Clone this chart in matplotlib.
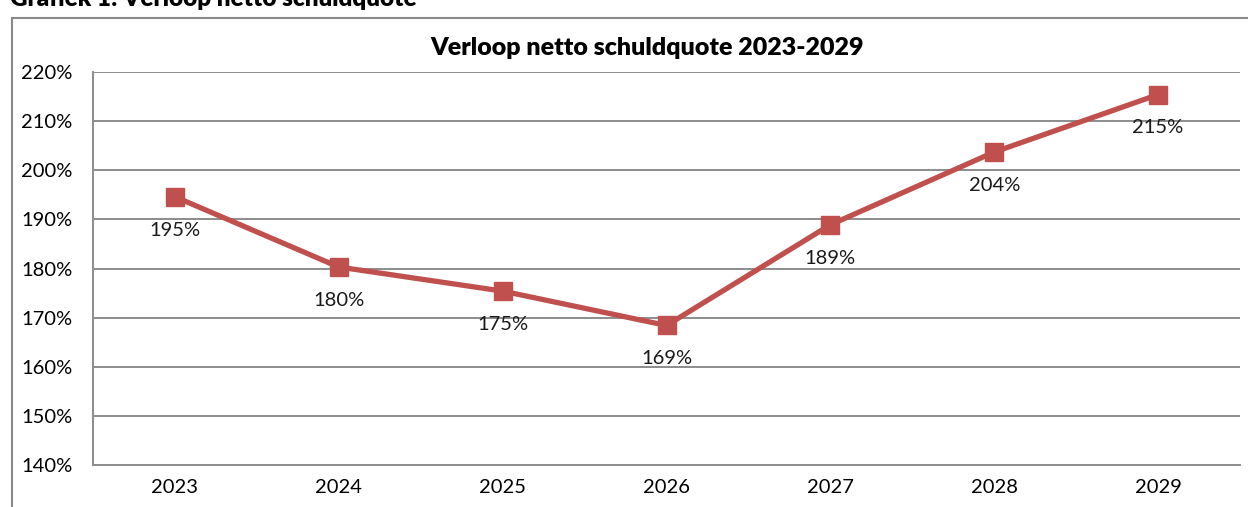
import matplotlib
matplotlib.use("Agg")
import matplotlib.pyplot as plt
from matplotlib.patches import Rectangle

plt.rcParams['font.family'] = ['Lato', 'DejaVu Sans']

years = ["2023", "2024", "2025", "2026", "2027", "2028", "2029"]
quote = [194.6, 180.3, 175.4, 168.4, 188.9, 203.7, 215.4]
labels = ["195%", "180%", "175%", "169%", "189%", "204%", "215%"]
yticks = [140, 150, 160, 170, 180, 190, 200, 210, 220]

line_color = "#C0504D"
grid_color = "#8C8C8C"

fig = plt.figure(figsize=(12.48, 5.07), dpi=100)

# kader rond de grafiek
frame = Rectangle((12 / 1248, -0.1), 1.0, 0.9645 + 0.1, transform=fig.transFigure,
                  fill=False, edgecolor="#8A8A8A", linewidth=1.5, clip_on=False)
fig.patches.append(frame)

fig.text(10 / 1248, 1 - 6 / 507, "Grafiek 1: Verloop netto schuldquote", fontsize=17.5,
         fontweight="heavy", va="baseline", ha="left")

ax = fig.add_axes([93 / 1248, 1 - 465 / 507, (1240 - 93) / 1248, (465 - 72) / 507])

x = list(range(len(years)))
ax.plot(x, quote, color=line_color, linewidth=3.8, marker="s", markersize=13,
        markerfacecolor=line_color, markeredgecolor=line_color, zorder=3)

for xi, yi, lab in zip(x, quote, labels):
    ax.annotate(lab, (xi, yi), xytext=(0, -24), textcoords="offset points",
                ha="center", va="center", fontsize=14.5, color="#1a1a1a")

ax.set_xlim(-0.5, len(years) - 0.5)
ax.set_ylim(140, 220)
ax.set_yticks(yticks)
ax.set_yticklabels([f"{v}%" for v in yticks], fontsize=14.5)
ax.set_xticks(x)
ax.set_xticklabels(years, fontsize=14.5)
ax.tick_params(axis="x", length=0, pad=10)
ax.tick_params(axis="y", length=0, pad=15)

ax.grid(axis="y", color=grid_color, linewidth=1.4)
ax.set_axisbelow(True)
for side in ["top", "right"]:
    ax.spines[side].set_visible(False)
for side in ["left", "bottom"]:
    ax.spines[side].set_color(grid_color)
    ax.spines[side].set_linewidth(1.4)

fig.text(647 / 1248, 1 - 48 / 507, "Verloop netto schuldquote 2023-2029", fontsize=18,
         fontweight="heavy", ha="center", va="center")

fig.savefig("out.png", dpi=100)
